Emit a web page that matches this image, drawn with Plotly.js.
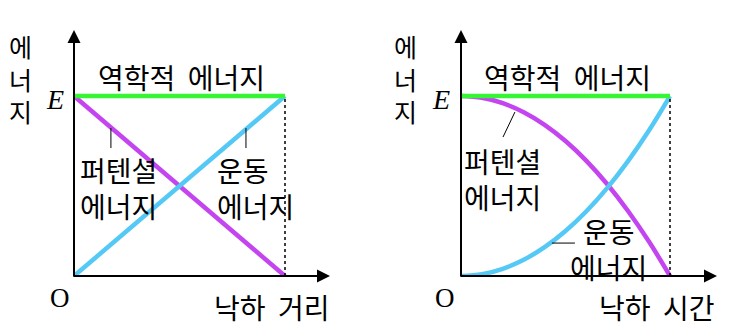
<!DOCTYPE html>
<html>
<head>
<meta charset="utf-8">
<script src="https://cdn.plot.ly/plotly-3.0.1.min.js"></script>
<style>
  html, body { margin: 0; padding: 0; background: #fff; }
  #chart { width: 750px; height: 333px; }
</style>
</head>
<body>
<div id="chart"></div>
<script>
// Energy of a freely falling body: against fall distance (left) and fall time (right).
// Values are fractions of the total mechanical energy E.

// Left panel: fall distance
const distance = [0, 1];
const mechDist = [1, 1];
const potDist = [1, 0];
const kinDist = [0, 1];

// Right panel: fall time
const time = [0, 0.1, 0.2, 0.3, 0.4, 0.5, 0.6, 0.7, 0.8, 0.9, 1.0];
const mechTime = [1, 1, 1, 1, 1, 1, 1, 1, 1, 1, 1];
const potTime = [1, 0.99, 0.96, 0.91, 0.84, 0.75, 0.64, 0.51, 0.36, 0.19, 0];
const kinTime = [0, 0.01, 0.04, 0.09, 0.16, 0.25, 0.36, 0.49, 0.64, 0.81, 1];

// Text labels
const yLabel = '에<br>너<br>지';
const mechLabel = '역학적\u00a0\u00a0에너지';
const potLabel = '퍼텐셜<br>에너지';
const kinLabel = '운동<br>에너지';
const xLabelLeft = '낙하\u00a0\u00a0거리';
const xLabelRight = '낙하\u00a0\u00a0시간';
const eLabel = 'E';
const originLabel = 'O';

const GREEN = '#35f535';
const PURPLE = '#c445ef';
const BLUE = '#55c9f5';
const KR = '"Noto Sans CJK KR", "Noto Sans", sans-serif';
const SERIF = '"Liberation Serif", "DejaVu Serif", serif';
const FS = 28;

const W = 750, H = 333;
const px = v => v / W;
const py = v => 1 - v / H;

function line(x, y, color, xa, ya, shape) {
  return {
    x: x, y: y, xaxis: xa, yaxis: ya, type: 'scatter', mode: 'lines',
    line: { color: color, width: 4.5, shape: shape || 'linear', smoothing: 1 },
    hoverinfo: 'skip', showlegend: false
  };
}

const traces = [
  line(distance, potDist, PURPLE, 'x', 'y'),
  line(distance, kinDist, BLUE, 'x', 'y'),
  line(distance, mechDist, GREEN, 'x', 'y'),
  line(time, potTime, PURPLE, 'x2', 'y2', 'spline'),
  line(time, kinTime, BLUE, 'x2', 'y2', 'spline'),
  line(time, mechTime, GREEN, 'x2', 'y2')
];

function axis(domain, range) {
  return {
    domain: domain, range: range, showgrid: false, zeroline: false,
    showline: false, showticklabels: false, ticks: '', fixedrange: true
  };
}

// axis arrows (drawn as annotation arrows with the head at the far end)
function arrow(xr, yr, x, y, ax, ay) {
  return {
    xref: xr, yref: yr, axref: xr, ayref: yr, x: x, y: y, ax: ax, ay: ay,
    showarrow: true, arrowhead: 2, arrowsize: 1.3, arrowwidth: 2,
    arrowcolor: '#000', standoff: 0, startstandoff: 0, text: ''
  };
}

function label(text, x, y, font, extra) {
  return Object.assign({
    xref: 'paper', yref: 'paper', x: px(x), y: py(y), text: text,
    showarrow: false, xanchor: 'center', yanchor: 'middle', borderpad: 0,
    font: Object.assign({ family: KR, size: FS, color: '#000' }, font || {})
  }, extra || {});
}

const yTop = 1.367;
const xTopL = 256 / 211;
const xTopR = 256 / 209;

const annotations = [
  arrow('x', 'y', xTopL, 0, -0.01, 0),
  arrow('x', 'y', 0, yTop, 0, -0.01),
  arrow('x2', 'y2', xTopR, 0, -0.01, 0),
  arrow('x2', 'y2', 0, yTop, 0, -0.01),

  // left panel
  label(yLabel, 20, 78, { size: 25 }),
  label(eLabel, 55, 99, { family: SERIF, size: 28, style: 'italic' }),
  label(originLabel, 60, 298, { family: SERIF, size: 27 }),
  label(mechLabel, 181, 77),
  label(potLabel, 118, 188.5),
  label(kinLabel, 255, 188.5, null, { align: 'left' }),
  label(xLabelLeft, 272, 307),

  // right panel
  label(yLabel, 405, 78, { size: 25 }),
  label(eLabel, 441, 99, { family: SERIF, size: 28, style: 'italic' }),
  label(originLabel, 445, 298, { family: SERIF, size: 27 }),
  label(mechLabel, 567, 77),
  label(potLabel, 502, 178.5),
  label(kinLabel, 608, 249),
  label(xLabelRight, 657, 307)
];

const shapes = [
  // drop lines at the moment of landing
  { type: 'line', xref: 'x', yref: 'y', x0: 1, x1: 1, y0: 0, y1: 1,
    line: { color: '#000', width: 1.5, dash: 'dot' } },
  { type: 'line', xref: 'x2', yref: 'y2', x0: 1, x1: 1, y0: 0, y1: 1,
    line: { color: '#000', width: 1.5, dash: 'dot' } },
  // leader lines from labels to curves
  { type: 'line', xref: 'x', yref: 'y', x0: 0.175, x1: 0.175, y0: 0.822, y1: 0.711,
    line: { color: '#000', width: 1 } },
  { type: 'line', xref: 'x', yref: 'y', x0: 0.815, x1: 0.815, y0: 0.822, y1: 0.711,
    line: { color: '#000', width: 1 } },
  { type: 'line', xref: 'x2', yref: 'y2', x0: 0.258, x1: 0.201, y0: 0.911, y1: 0.772,
    line: { color: '#000', width: 1 } },
  { type: 'line', xref: 'x2', yref: 'y2', x0: 0.435, x1: 0.545, y0: 0.183, y1: 0.183,
    line: { color: '#000', width: 1 } }
];

const layout = {
  width: W, height: H,
  margin: { l: 0, r: 0, t: 0, b: 0 },
  paper_bgcolor: '#fff', plot_bgcolor: 'rgba(0,0,0,0)',
  showlegend: false,
  xaxis: Object.assign(axis([74 / W, 330 / W], [0, xTopL]), { anchor: 'y' }),
  yaxis: Object.assign(axis([1 - 276 / H, 1 - 30 / H], [0, yTop]), { anchor: 'x' }),
  xaxis2: Object.assign(axis([461 / W, 717 / W], [0, xTopR]), { anchor: 'y2' }),
  yaxis2: Object.assign(axis([1 - 276 / H, 1 - 30 / H], [0, yTop]), { anchor: 'x2' }),
  annotations: annotations,
  shapes: shapes
};

Plotly.newPlot('chart', traces, layout, { staticPlot: true, displayModeBar: false });
</script>
</body>
</html>
